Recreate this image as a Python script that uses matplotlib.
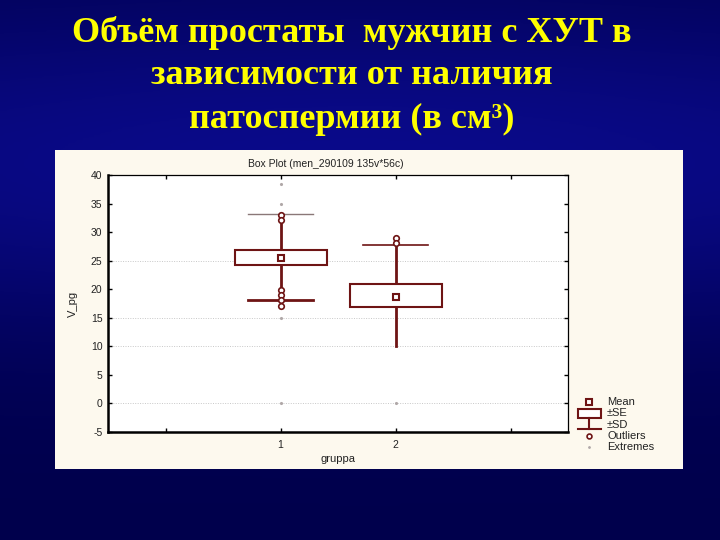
import numpy as np
import matplotlib
matplotlib.use("Agg")
import matplotlib.pyplot as plt
import matplotlib.patches as patches
from matplotlib.colors import LinearSegmentedColormap

matplotlib.rcParams['axes.unicode_minus'] = False

# --- data ---
groups = [1, 2]
means = [25.5, 18.7]
se_low = [24.3, 16.8]
se_high = [26.8, 20.9]
sd_low = [18.2, 10.0]
sd_high = [33.2, 27.8]
outliers = [[33.0, 32.2, 19.8, 19.0, 18.2, 17.1], [29.0, 28.1]]
extremes = [[38.5, 35.0, 15.0, 0.0], [0.0]]
legend_labels = ["Mean", "\u00b1SE", "\u00b1SD", "Outliers", "Extremes"]

title_lines = ["Объём простаты  мужчин с ХУТ в",
               "зависимости от наличия",
               "патоспермии (в см\u00b3)"]

DARK = "#6e1414"
W, H = 720, 540

fig = plt.figure(figsize=(7.2, 5.4), dpi=100)

# slide background: dark navy, a bit brighter around the lower title band
bg = fig.add_axes([0, 0, 1, 1])
bg.set_axis_off()
yy, xx = np.mgrid[0:1:200j, 0:1:200j]
glow = np.exp(-((yy - 0.3) / 0.32) ** 2) * (0.75 + 0.25 * np.exp(-((xx - 0.5) / 0.6) ** 2))
cmap_bg = LinearSegmentedColormap.from_list("slide", ["#00004c", "#0a0a8a"])
bg.imshow(glow, cmap=cmap_bg, vmin=0, vmax=1, aspect="auto", extent=[0, 1, 0, 1], origin="upper")
bg.set_xlim(0, 1)
bg.set_ylim(0, 1)

# cream panel for the pasted chart
bg.add_patch(patches.Rectangle((55 / W, 1 - 469 / H), 628 / W, 319 / H,
                               facecolor="#fdf9ee", edgecolor="none", zorder=2))

for i, line in enumerate(title_lines):
    fig.text(352 / W, 1 - (33 + 43 * i) / H, line, ha="center", va="center",
             color="#ffff00", fontsize=26, fontweight="bold",
             family=["Liberation Serif", "DejaVu Serif"])

# --- box plot axes ---
ax = fig.add_axes([108 / W, 1 - 432 / H, 460 / W, 257 / H])
ax.set_facecolor("white")
ax.set_xlim(-0.5, 3.5)
ax.set_ylim(-5, 40)

for y in [0, 10, 15, 25]:
    ax.axhline(y, color="#c8c8c8", lw=0.7, ls=(0, (1, 1.5)), zorder=0)

box_w = 0.8
cap_w = 0.56
for k, g in enumerate(groups):
    # whisker (±SD)
    ax.plot([g, g], [sd_low[k], se_low[k]], color=DARK, lw=2, zorder=2)
    ax.plot([g, g], [se_high[k], sd_high[k]], color=DARK, lw=2, zorder=2)
    # caps
    if k == 0:
        ax.plot([g - cap_w / 2, g + cap_w / 2], [sd_high[k]] * 2, color="#8a7878", lw=1, zorder=2)
        ax.plot([g - cap_w / 2, g + cap_w / 2], [sd_low[k]] * 2, color=DARK, lw=2, zorder=2)
    else:
        ax.plot([g - cap_w / 2, g + cap_w / 2], [sd_high[k]] * 2, color=DARK, lw=1.2, zorder=2)
    # box (±SE)
    ax.add_patch(patches.Rectangle((g - box_w / 2, se_low[k]), box_w, se_high[k] - se_low[k],
                                   facecolor="white", edgecolor=DARK, lw=1.5, zorder=3))
    # mean
    ax.plot(g, means[k], marker="s", ms=4, mfc="white", mec=DARK, mew=1.5, zorder=4)
    # outliers
    ax.plot([g] * len(outliers[k]), outliers[k], ls="none", marker="o", ms=4,
            mfc="white", mec=DARK, mew=1.2, zorder=4)
    # extremes
    ax.plot([g] * len(extremes[k]), extremes[k], ls="none", marker=".", ms=2.5,
            color="#b0a8a8", zorder=4)

ax.set_xticks([0, 1, 2, 3])
ax.set_xticklabels(["", "1", "2", ""])
ax.set_yticks(np.arange(-5, 41, 5))
ax.tick_params(direction="in", length=3, width=1, labelsize=7.5, top=True, right=True,
               labelcolor="#222222", pad=4)
ax.tick_params(axis="x", pad=6)
for side in ["left", "bottom"]:
    ax.spines[side].set_linewidth(1.8)
for side in ["top", "right"]:
    ax.spines[side].set_linewidth(0.9)
for lab in ax.get_xticklabels() + ax.get_yticklabels():
    lab.set_family("Liberation Sans")

ax.set_xlabel("gruppa", fontsize=8, family="Liberation Sans", color="#222222", labelpad=3)
ax.set_ylabel("V_pg", fontsize=8, family="Liberation Sans", color="#222222", labelpad=9)
fig.text(326 / W, 1 - 164 / H, "Box Plot (men_290109 135v*56c)", ha="center", va="center",
         fontsize=7.5, family="Liberation Sans", color="#222222")

# --- legend glyphs (pixel coordinates of the slide) ---
lg = fig.add_axes([0, 0, 1, 1], facecolor="none")
lg.set_axis_off()
lg.set_xlim(0, W)
lg.set_ylim(H, 0)
rows = [402, 413, 425, 436, 447]
lg.plot(589, rows[0], marker="s", ms=4, mfc="white", mec=DARK, mew=1.5)
lg.add_patch(patches.Rectangle((578, 409), 23, 9, facecolor="white", edgecolor=DARK, lw=1.5))
lg.plot([589, 589], [418, 429], color=DARK, lw=1.5)
lg.plot([578, 601], [429, 429], color=DARK, lw=1.5)
lg.plot(589, rows[3], marker="o", ms=3.5, mfc="white", mec=DARK, mew=1.2)
lg.plot(589, rows[4], marker=".", ms=2, color="#b0a8a8")
for r, txt in zip(rows, legend_labels):
    lg.text(607, r, txt, ha="left", va="center", fontsize=8, family="Liberation Sans",
            color="#222222")

fig.savefig("out.png", dpi=100)
